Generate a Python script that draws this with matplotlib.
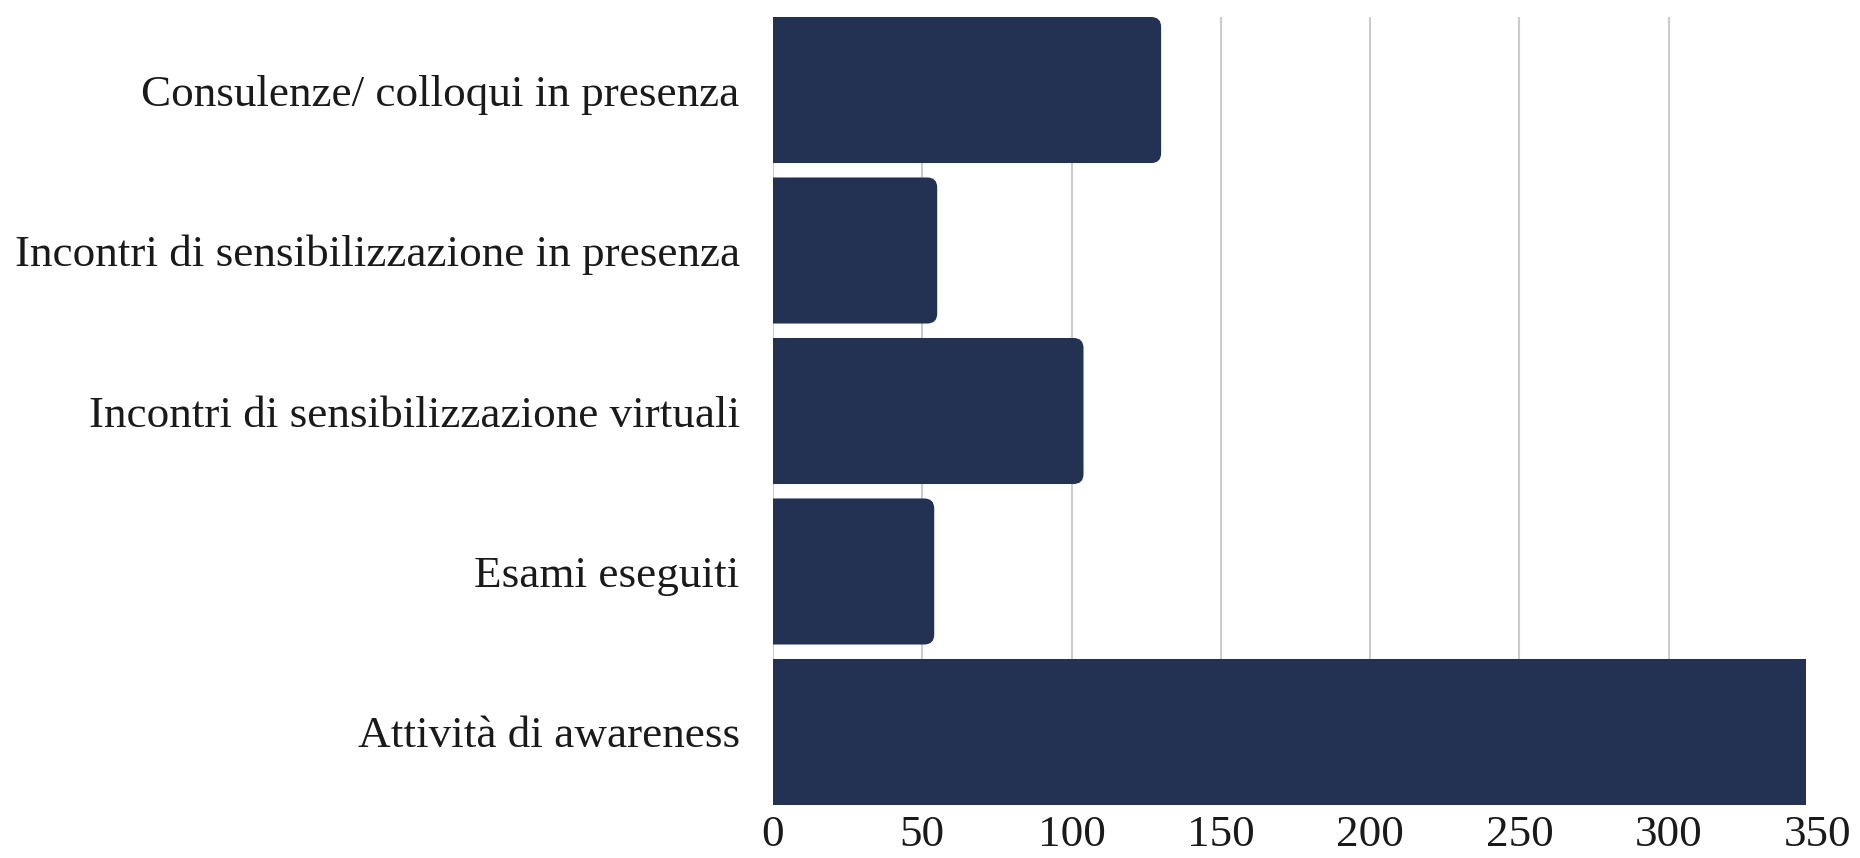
import matplotlib
matplotlib.use('Agg')
import matplotlib.pyplot as plt
from matplotlib.patches import FancyBboxPatch
from matplotlib.transforms import IdentityTransform

categories = [
    "Consulenze/ colloqui in presenza",
    "Incontri di sensibilizzazione in presenza",
    "Incontri di sensibilizzazione virtuali",
    "Esami eseguiti",
    "Attività di awareness",
]
values = [130, 55, 104, 54, 346]
xticks = [0, 50, 100, 150, 200, 250, 300, 350]
rounded = [True, True, True, True, False]

BAR_COLOR = '#233152'
GRID_COLOR = '#cccccc'
TEXT_COLOR = '#1a1a1a'

plt.rcParams['font.family'] = ['Liberation Serif', 'DejaVu Serif']

W, H = 1860, 858
fig = plt.figure(figsize=(W / 100, H / 100), dpi=100)
ax = fig.add_axes([773 / W, 53 / H, 1045 / W, 788 / H])

ypos = list(range(len(categories)))
bars = ax.barh(ypos, values, height=0.91, color=BAR_COLOR, zorder=2)
ax.set_ylim(len(categories) - 0.545, -0.455)
ax.set_xlim(0, 350)

ax.set_xticks(xticks)
ax.set_xticklabels([str(t) for t in xticks])
ax.set_yticks(ypos)
ax.set_yticklabels(categories)
ax.grid(axis='x', color=GRID_COLOR, linewidth=1.5, zorder=0)
ax.set_axisbelow(True)
gl = ax.xaxis.get_gridlines()
gl[-1].set_visible(False)

for s in ax.spines.values():
    s.set_visible(False)
ax.tick_params(axis='both', length=0, labelsize=32.5, colors=TEXT_COLOR)
ax.tick_params(axis='y', pad=24)
ax.tick_params(axis='x', pad=7)

# rounded right ends, built from the bar geometry in display space
radius = 10
for bar, rnd in zip(bars, rounded):
    if not rnd:
        continue
    x0, y0 = bar.get_x(), bar.get_y()
    w, h = bar.get_width(), bar.get_height()
    (dx0, dy0), (dx1, dy1) = ax.transData.transform([(x0, y0), (x0 + w, y0 + h)])
    left, right = min(dx0, dx1), max(dx0, dx1)
    bottom, top = min(dy0, dy1), max(dy0, dy1)
    patch = FancyBboxPatch((left - 2 * radius, bottom), (right - left) + 2 * radius, top - bottom,
                           boxstyle=f"round,pad=0,rounding_size={radius}",
                           transform=IdentityTransform(), facecolor=BAR_COLOR,
                           edgecolor='none', zorder=2)
    ax.add_patch(patch)
    patch.set_clip_path(ax.patch)
    bar.set_visible(False)

fig.savefig('out.png', dpi=100, facecolor='white')
